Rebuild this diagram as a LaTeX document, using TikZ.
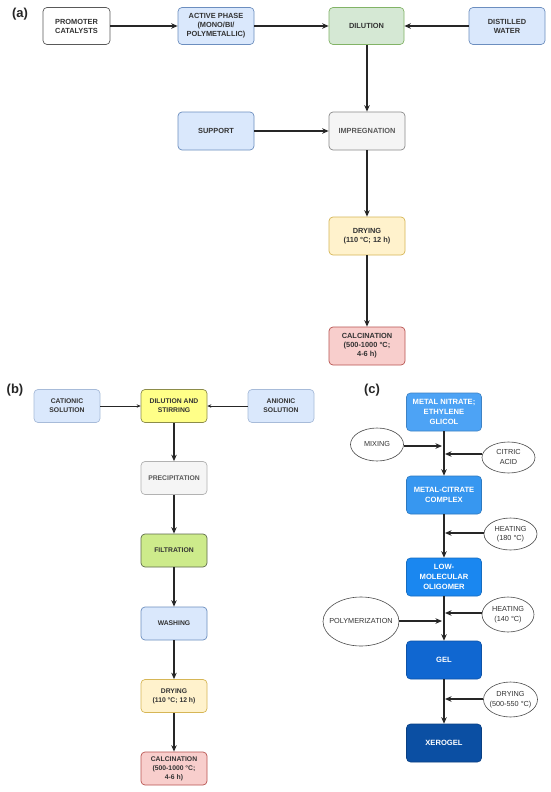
\documentclass[tikz,border=0pt]{standalone}
\usepackage{fontspec}
\setmainfont{Liberation Sans}
\usetikzlibrary{arrows.meta,shapes.geometric}
\definecolor{bluefill}{HTML}{DAE8FC}
\definecolor{blueline}{HTML}{6C8EBF}
\definecolor{greenfill}{HTML}{D5E8D4}
\definecolor{greenline}{HTML}{82B366}
\definecolor{grayfill}{HTML}{F5F5F5}
\definecolor{grayline}{HTML}{8A8A8A}
\definecolor{yellowfill}{HTML}{FFF2CC}
\definecolor{yellowline}{HTML}{D6B656}
\definecolor{redfill}{HTML}{F8CECC}
\definecolor{redline}{HTML}{B85450}
\definecolor{notefill}{HTML}{FFFF88}
\definecolor{noteline}{HTML}{8C8C4A}
\definecolor{limefill}{HTML}{CDEB8B}
\definecolor{limeline}{HTML}{5E6B4A}
\definecolor{txt}{HTML}{333333}
\definecolor{cA}{HTML}{4DA3F5}
\definecolor{cB}{HTML}{3797F0}
\definecolor{cC}{HTML}{1A87F0}
\definecolor{cD}{HTML}{1067D1}
\definecolor{cE}{HTML}{0B4FA3}
\newcommand{\elltext}[1]{\makebox[0pt]{\begin{tabular}{@{}c@{}}#1\end{tabular}}}
\tikzset{
  boxa/.style={draw, rounded corners=4pt, minimum width=76pt, minimum height=37pt,
    inner sep=1pt, align=center, text=txt, line width=0.7pt,
    font=\fontsize{7.4}{9}\selectfont\bfseries},
  boxb/.style={draw, rounded corners=4pt, minimum width=66pt, minimum height=33pt,
    inner sep=1pt, align=center, text=txt, line width=0.7pt,
    font=\fontsize{6.8}{9}\selectfont\bfseries},
  boxc/.style={draw, rounded corners=4pt, minimum width=75pt, minimum height=38pt,
    inner sep=1pt, align=center, text=white, line width=0.6pt,
    font=\fontsize{7.6}{10}\selectfont\bfseries},
  ell/.style={draw=black!70, ellipse, inner sep=0pt, text=txt, line width=0.6pt,
    font=\fontsize{7.3}{9.5}\selectfont},
  blue/.style={fill=bluefill, draw=blueline},
  green/.style={fill=greenfill, draw=greenline},
  gray/.style={fill=grayfill, draw=grayline},
  yellow/.style={fill=yellowfill, draw=yellowline},
  red/.style={fill=redfill, draw=redline},
  arr/.style={-{Stealth[length=6.5pt,width=5.5pt]}, line width=1.3pt, black!85},
  thin arr/.style={-{Stealth[length=4pt,width=3.5pt]}, line width=0.8pt, black!85},
  lbl/.style={font=\fontsize{13}{15}\selectfont\bfseries, text=black!85},
}
\begin{document}
\begin{tikzpicture}[x=1pt,y=-1pt]
\useasboundingbox (0,0) rectangle (550,792);
\fill[white] (0,0) rectangle (550,792);

% ---------- (a) ----------
\node[lbl] (la) at (20,14) {(a)};
\node[boxa, fill=white, draw=black!65, minimum width=67pt] (prom) at (76.5,26) {PROMOTER\\CATALYSTS};
\node[boxa, blue] (act) at (216,26) {ACTIVE PHASE\\(MONO/BI/\\POLYMETALLIC)};
\node[boxa, green, minimum width=75pt] (dil) at (366.5,26) {DILUTION};
\node[boxa, blue] (wat) at (507,26) {DISTILLED\\WATER};
\node[boxa, blue, minimum height=38pt] (sup) at (216,131) {SUPPORT};
\node[boxa, gray, minimum height=38pt, text=black!65] (imp) at (367,131) {IMPREGNATION};
\node[boxa, yellow, minimum height=38pt] (dry) at (367,236) {DRYING\\(110 °C; 12 h)};
\node[boxa, red, minimum height=38pt] (cal) at (367,346) {CALCINATION\\(500-1000 °C;\\4-6 h)};
\draw[arr] (prom) -- (act);
\draw[arr] (act) -- (dil);
\draw[arr] (wat) -- (dil);
\draw[arr] (dil.south -| imp.north) -- (imp.north);
\draw[arr] (sup) -- (imp);
\draw[arr] (imp) -- (dry);
\draw[arr] (dry) -- (cal);

% ---------- (b) ----------
\node[lbl] (lb) at (15,390) {(b)};
\node[boxb, blue, draw=blueline!60] (cat) at (67,406) {CATIONIC\\SOLUTION};
\node[boxb, fill=notefill, draw=noteline] (ds) at (174,406) {DILUTION AND\\STIRRING};
\node[boxb, blue, draw=blueline!60] (ani) at (281,406) {ANIONIC\\SOLUTION};
\node[boxb, gray, draw=black!30, text=black!65] (pre) at (174,478) {PRECIPITATION};
\node[boxb, fill=limefill, draw=limeline] (fil) at (174,550.5) {FILTRATION};
\node[boxb, blue] (was) at (174,623.5) {WASHING};
\node[boxb, yellow] (dryb) at (174,696) {DRYING\\(110 °C; 12 h)};
\node[boxb, red] (calb) at (174,768.5) {CALCINATION\\(500-1000 °C;\\4-6 h)};
\draw[thin arr] (cat) -- (ds);
\draw[thin arr] (ani) -- (ds);
\draw[arr] (ds) -- (pre);
\draw[arr] (pre) -- (fil);
\draw[arr] (fil) -- (was);
\draw[arr] (was) -- (dryb);
\draw[arr] (dryb) -- (calb);

% ---------- (c) ----------
\node[lbl] (lc) at (372,390) {(c)};
\node[boxc, fill=cA, draw=cA!80!black] (mn) at (444,412) {METAL NITRATE;\\ETHYLENE\\GLICOL};
\node[boxc, fill=cB, draw=cB!80!black] (mc) at (444,495) {METAL-CITRATE\\COMPLEX};
\node[boxc, fill=cC, draw=cC!80!black] (lmo) at (444,577) {LOW-\\MOLECULAR\\OLIGOMER};
\node[boxc, fill=cD, draw=cD!80!black] (gel) at (444,660) {GEL};
\node[boxc, fill=cE, draw=cE!80!black] (xer) at (444,743) {XEROGEL};

\node[ell, minimum width=53pt, minimum height=33pt] (mix) at (377,444.5) {\elltext{MIXING}};
\node[ell, minimum width=53pt, minimum height=31pt] (cit) at (508.5,457.5) {\elltext{CITRIC\\ACID}};
\node[ell, minimum width=53pt, minimum height=32pt] (h180) at (510.5,534) {\elltext{HEATING\\(180 °C)}};
\node[ell, minimum width=76pt, minimum height=49pt] (pol) at (361,621.5) {\elltext{POLYMERIZATION}};
\node[ell, minimum width=52pt, minimum height=35pt] (h140) at (508,614.5) {\elltext{HEATING\\(140 °C)}};
\node[ell, minimum width=54pt, minimum height=35pt] (d550) at (510.5,699.5) {\elltext{DRYING\\(500-550 °C)}};

\coordinate (pmix) at (442,446);
\coordinate (pcit) at (445,454);
\coordinate (ph180) at (445,533);
\coordinate (ph140) at (445,613);
\coordinate (ppol) at (442,621);
\coordinate (pd550) at (445,699);

\draw[arr] (mn) -- (mc);
\draw[arr] (mc) -- (lmo);
\draw[arr] (lmo) -- (gel);
\draw[arr] (gel) -- (xer);
\draw[arr] (mix.east |- pmix) -- (pmix);
\draw[arr] (cit.west |- pcit) -- (pcit);
\draw[arr] (h180.west |- ph180) -- (ph180);
\draw[arr] (h140.west |- ph140) -- (ph140);
\draw[arr] (pol.east |- ppol) -- (ppol);
\draw[arr] (d550.west |- pd550) -- (pd550);
\end{tikzpicture}
\end{document}
